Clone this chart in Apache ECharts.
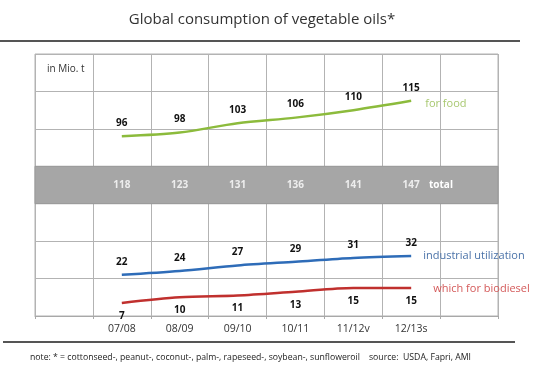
<!DOCTYPE html>
<html>
<head>
<meta charset="utf-8">
<script src="https://cdn.jsdelivr.net/npm/echarts@6/dist/echarts.min.js"></script>
<style>
  html, body { margin: 0; padding: 0; background: #fff; }
  #chart { width: 549px; height: 375px; }
</style>
</head>
<body>
<div id="chart"></div>
<script>
// data
const years = ['07/08', '08/09', '09/10', '10/11', '11/12v', '12/13s']
const categories = [''].concat(years, [''])
const forFood = [96, 98, 103, 106, 110, 115]
const industrial = [22, 24, 27, 29, 31, 32]
const biodiesel = [7, 10, 11, 13, 15, 15]
const totals = [118, 123, 131, 136, 141, 147]
const bandRange = [60, 80]   // grey "total" band on the value axis

const font = 'Open Sans'
const chart = echarts.init(document.getElementById('chart'))

// helper for the three line series
function lineSeries (name, values, color, labelColor, labelPos, endOffset) {
    return {
        name: name,
        type: 'line',
        data: values.map((v, i) => [years[i], v]),
        smooth: 0.3,
        symbol: 'circle',
        symbolSize: 0,
        lineStyle: { color: color, width: 2.5 },
        itemStyle: { color: color },
        label: {
            show: true,
            position: labelPos,
            distance: 8,
            color: '#111',
            fontFamily: font,
            fontWeight: 'bold',
            fontSize: 10
        },
        endLabel: {
            show: true,
            formatter: name,
            color: labelColor,
            fontFamily: font,
            fontSize: 11,
            distance: endOffset[0],
            offset: [0, endOffset[1]]
        },
        z: 3
    }
}

const option = {
    animation: false,
    grid: { left: 35, right: 51, top: 54, bottom: 59, show: true, borderColor: '#b3b3b3', borderWidth: 1 },
    xAxis: {
        type: 'category',
        data: categories,
        boundaryGap: true,
        axisLine: { lineStyle: { color: '#a8a8a8' } },
        axisTick: { show: true, length: 3, lineStyle: { color: '#a8a8a8' } },
        axisLabel: { color: '#333', fontFamily: font, fontSize: 10.5, margin: 8 },
        splitLine: { show: true, lineStyle: { color: '#b3b3b3', width: 1 } }
    },
    yAxis: {
        type: 'value',
        min: 0,
        max: 140,
        interval: 20,
        axisLine: { show: false },
        axisTick: { show: false },
        axisLabel: { show: false },
        splitLine: { lineStyle: { color: '#b3b3b3', width: 1 } }
    },
    series: [
        {
            name: 'total',
            type: 'scatter',
            data: totals.map((t, i) => ({ value: [years[i], (bandRange[0] + bandRange[1]) / 2], total: t })),
            symbolSize: 0,
            label: {
                show: true,
                position: 'inside',
                formatter: p => p.data.total,
                color: '#fff',
                fontFamily: font,
                fontWeight: 'bold',
                fontSize: 10
            },
            markArea: {
                silent: true,
                itemStyle: { color: '#a6a6a6', borderColor: '#999', borderWidth: 1 },
                data: [[{ yAxis: bandRange[0] }, { yAxis: bandRange[1] }]]
            },
            z: 2
        },
        lineSeries('for food', forFood, '#8cbb3c', '#a8c870', 'top', [14, 3]),
        lineSeries('industrial utilization', industrial, '#2e6cb8', '#4a72a8', 'top', [12, 0]),
        lineSeries('which for biodiesel', biodiesel, '#c0302e', '#d45a5a', 'bottom', [22, 1])
    ],
    graphic: [
        {
            type: 'text', x: 262, y: 20,
            style: { text: 'Global consumption of vegetable oils*', fill: '#333', font: '15px "Open Sans"', textAlign: 'center', textVerticalAlign: 'middle' }
        },
        { type: 'line', shape: { x1: 0, y1: 41, x2: 520, y2: 41 }, style: { stroke: '#555', lineWidth: 2 } },
        { type: 'line', shape: { x1: 3, y1: 342, x2: 515, y2: 342 }, style: { stroke: '#555', lineWidth: 2 } },
        {
            type: 'text', x: 47, y: 69,
            style: { text: 'in Mio. t', fill: '#333', font: '10px "Open Sans"', textVerticalAlign: 'middle' }
        },
        {
            type: 'text', x: 429, y: 185, z: 10,
            style: { text: 'total', fill: '#fff', font: 'bold 10px "Open Sans"', textVerticalAlign: 'middle' }
        },
        {
            type: 'text', x: 30, y: 358,
            style: {
                text: 'note: * = cottonseed-, peanut-, coconut-, palm-, rapeseed-, soybean-, sunfloweroil    source:  USDA, Fapri, AMI',
                fill: '#222', font: '8.7px "Open Sans"', textVerticalAlign: 'middle'
            }
        }
    ]
}

chart.setOption(option)
</script>
</body>
</html>
